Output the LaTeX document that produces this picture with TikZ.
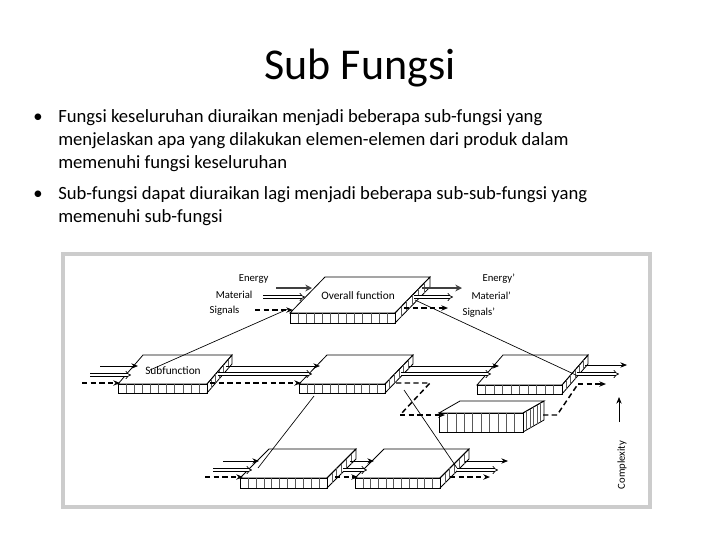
\documentclass[tikz,border=0pt]{standalone}
\usepackage{fontspec}
\setmainfont{Carlito}
\usetikzlibrary{arrows.meta,calc}
\newcommand\myslab[8]{% name, x, y, w, dx, dy, t, n
  \coordinate (#1-fl) at (#2,#3);
  \coordinate (#1-fr) at (#2+#4,#3);
  \coordinate (#1-br) at (#2+#4+#5,#3-#6);
  \coordinate (#1-bl) at (#2+#5,#3-#6);
  \fill[white] (#1-fl)--(#1-bl)--(#1-br)--++(0,#7)--($(#1-fr)+(0,#7)$)--($(#1-fl)+(0,#7)$)--cycle;
  \draw[slabline] (#1-fl)--(#1-bl)--(#1-br)--(#1-fr)--cycle;
  \draw[slabline] (#1-fl) rectangle ($(#1-fr)+(0,#7)$);
  \draw[slabline] (#1-fr)--(#1-br)--++(0,#7)--($(#1-fr)+(0,#7)$);
  \foreach \i in {1,...,#8}{\draw[segline] ($(#1-fl)!\i/(#8+1)!(#1-fr)$)--++(0,#7);}
  \foreach \i in {1,...,5}{\draw[segline] ($(#1-fr)!\i/6!(#1-br)$)--++(0,#7);}
}
\begin{document}
\begin{tikzpicture}[x=0.75pt,y=-0.75pt,
  slabline/.style={line width=0.6pt},
  segline/.style={line width=0.3pt,gray!70!black},
  lbl/.style={font=\fontsize{8}{9}\selectfont,inner sep=1pt},
  enarrow/.style={line width=1.8pt,black!75,-{Stealth[length=5pt,width=5pt]}},
  thinarrow/.style={line width=0.6pt,-{Stealth[length=5pt,width=4pt]}},
  matarrow/.style={double,double distance=1.6pt,line width=0.5pt,-{Implies}},
  sigarrow/.style={dash pattern=on 4pt off 2.5pt,line width=1.1pt,-{Stealth[length=5pt,width=4pt]}},
  sigline/.style={dash pattern=on 4pt off 2.5pt,line width=1.1pt},
  decline/.style={line width=0.5pt}]
\useasboundingbox (0,0) rectangle (720,540);
\fill[white] (0,0) rectangle (720,540);
\node[font=\fontsize{33}{38}\selectfont] (title) at (360,68) {Sub Fungsi};
\begin{scope}[every node/.style={anchor=west,inner sep=0pt,font=\fontsize{14}{16}\selectfont}]
\node (b1) at (33,118) {•};
\node (t1) at (58,118) {Fungsi keseluruhan diuraikan menjadi beberapa sub-fungsi yang};
\node (t2) at (58,141) {menjelaskan apa yang dilakukan elemen-elemen dari produk dalam};
\node (t3) at (58,164) {memenuhi fungsi keseluruhan};
\node (b2) at (33,195) {•};
\node (t4) at (58,195) {Sub-fungsi dapat diuraikan lagi menjadi beberapa sub-sub-fungsi yang};
\node (t5) at (58,218) {memenuhi sub-fungsi};
\end{scope}
\draw[line width=2.5pt,black!20] (63,254) rectangle (650,507);
\coordinate (dOa) at (288,309); \coordinate (dSa) at (150,370);
\coordinate (dOb) at (415,300); \coordinate (dRb) at (578,376);
\coordinate (dMa) at (314,396); \coordinate (dB1) at (258,468);
\coordinate (dMb) at (404,390); \coordinate (dB2) at (457,468);
\myslab{O}{290}{313}{105}{35}{36}{10}{12}
\myslab{S}{118}{384}{89}{25}{29}{9}{10}
\myslab{M}{299}{384}{86}{28}{29}{9}{10}
\myslab{R}{477}{385}{85}{26}{30}{9}{9}
\myslab{L}{439}{413}{84}{21}{12}{19}{9}
\myslab{B1}{240}{478}{87}{29}{29}{10}{10}
\myslab{B2}{355}{478}{85}{29}{29}{10}{10}
\draw[decline] (dOa)--(dSa); \draw[decline] (dOb)--(dRb);
\draw[decline] (dMa)--(dB1); \draw[decline] (dMb)--(dB2);
\node[lbl,anchor=east] (le) at (270,279) {Energy};
\node[lbl,anchor=east] (lm) at (254,295) {Material};
\node[lbl,anchor=east] (ls) at (241,311) {Signals};
\node[lbl,anchor=west] (le2) at (481,279) {Energy'};
\node[lbl,anchor=west] (lm2) at (470,296) {Material'};
\node[lbl,anchor=west] (ls2) at (461,313) {Signals'};
\draw[enarrow] (276,288)--(312,288);
\draw[matarrow] (263,297)--(305,297);
\draw[sigarrow] (255,310)--(293,310);
\draw[enarrow] (422,288)--(462,288);
\draw[matarrow] (414,297)--(453,297);
\draw[sigarrow] (404,308)--(448,308);
\node[lbl,font=\fontsize{8.5}{9}\selectfont] (ot) at (358,296) {Overall function};
\node[lbl,font=\fontsize{8.5}{9}\selectfont] (st) at (173,371) {Subfunction};
\draw[thinarrow] (100,366)--(138,366);
\draw[matarrow] (90,375)--(131,375);
\draw[sigarrow] (82,383)--(120,383);
\draw[thinarrow] (226,366)--(320,366);
\draw[matarrow] (218,374)--(312,374);
\draw[sigarrow] (210,383)--(301,383);
\draw[thinarrow] (409,366)--(499,366);
\draw[matarrow] (401,374)--(491,374);
\draw[sigline] (396,383)--(430,383)--(400,415);
\draw[sigarrow] (400,415)--(445,415);
\draw[sigline] (543,415)--(557,415)--(578,384);
\draw[sigarrow] (578,384)--(606,384);
\draw[thinarrow] (585,365)--(627,365);
\draw[matarrow] (577,374)--(619,374);
\draw[thinarrow] (223,461)--(259,461);
\draw[matarrow] (213,470)--(252,470);
\draw[sigarrow] (205,477)--(243,477);
\draw[thinarrow] (350,461)--(374,461);
\draw[matarrow] (343,470)--(367,470);
\draw[sigarrow] (335,477)--(358,477);
\draw[thinarrow] (465,461)--(508,461);
\draw[matarrow] (457,470)--(498,470);
\draw[sigarrow] (450,477)--(490,477);
\draw[thinarrow] (619,422)--(619,397);
\node[lbl,rotate=90] (cx) at (622,465) {Complexity};
\end{tikzpicture}
\end{document}
